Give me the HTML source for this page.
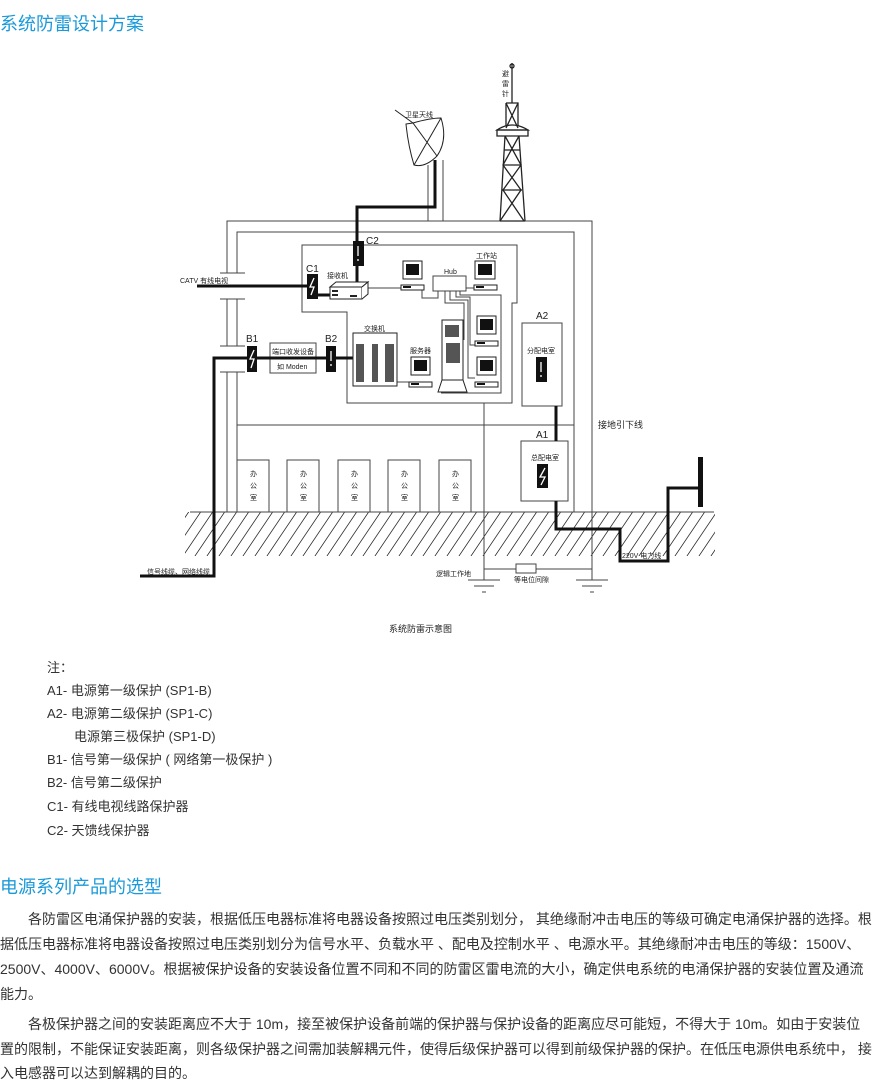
<!DOCTYPE html>
<html><head><meta charset="utf-8"><style>
*{margin:0;padding:0}
body{width:882px;height:1075px;background:#fff;position:relative;overflow:hidden;font-family:"Liberation Sans","Noto Sans CJK SC",sans-serif;color:#333}
.t{position:absolute;left:0;font-size:18px;color:#1b9ad9;white-space:nowrap}
.n{position:absolute;left:47px;font-size:13px;color:#333;white-space:nowrap}
.p{position:absolute;left:0;width:868px;font-size:14px;color:#333;white-space:nowrap}
.j{text-align:justify;text-align-last:justify}
svg{position:absolute;left:0;top:0}
svg text{font-family:"Liberation Sans","Noto Sans CJK SC",sans-serif;fill:#222}
</style></head><body>
<div class="t" style="top:10px">系统防雷设计方案</div>

<svg width="882" height="650" viewBox="0 0 882 650">
<defs>
<pattern id="h" width="12" height="44" patternUnits="userSpaceOnUse" patternTransform="skewX(-34)">
<line x1="6" y1="0" x2="6" y2="44" stroke="#333" stroke-width="1"/></pattern>
</defs>
<g fill="none" stroke="#444" stroke-width="1">
<!-- ground hatch -->
<rect x="185" y="512" width="530" height="44" fill="url(#h)" stroke="none"/>
<line x1="190" y1="512" x2="714" y2="512"/>
<!-- outer walls -->
<path d="M227 273 V221 H592 V512"/>
<path d="M237 273 V232 H574 V512"/>
<path d="M227 299 V346 M237 299 V346"/>
<path d="M227 372 V512 M237 372 V512"/>
<path d="M220 273 H245 M220 299 H245 M220 346 H245 M220 372 H245"/>
<line x1="237" y1="425" x2="574" y2="425"/>
<!-- antenna mast -->
<path d="M428 165 V221 M443 160 V221"/>
<!-- inner room -->
<path d="M302 245 H517 V303 H512 V403 H347 V312 H302 Z"/>
<!-- logic ground line -->
<path d="M484 403 V580 M592 512 V580"/>
<path d="M484 569 H592"/>
<rect x="516" y="564" width="20" height="9" fill="#fff"/>
<path d="M468 580 H500 M474 586 H494 M482 592 H486"/>
<path d="M576 580 H608 M582 586 H602 M590 592 H594"/>
<!-- offices -->
<rect x="237" y="460" width="32" height="52" fill="#fff"/>
<rect x="287" y="460" width="32" height="52" fill="#fff"/>
<rect x="338" y="460" width="32" height="52" fill="#fff"/>
<rect x="388" y="460" width="32" height="52" fill="#fff"/>
<rect x="439" y="460" width="32" height="52" fill="#fff"/>
<!-- boxes -->
<rect x="522" y="323" width="40" height="83"/>
<rect x="521" y="441" width="47" height="60" fill="#fff"/>
<rect x="270" y="343" width="46" height="30"/>
<line x1="270" y1="358" x2="316" y2="358"/>
<!-- network wiring -->
<path d="M368 288 H401"/>
<path d="M422 290 V298 H438 V291"/>
<path d="M466 288 H475"/>
<path d="M445 291 V303 H464 V340"/>
<path d="M450 291 V300 H468 V378 H475"/>
<path d="M456 291 V297 H470 V345 H475"/>
<path d="M460 291 V295 H501 V393 H441"/>
<path d="M397 378 V382 H409"/>
</g>
<!-- dish -->
<g stroke="#222" stroke-width="1" fill="#fff">
<path d="M406 124 L413 123 Q430 118 441 118 Q448 140 437 156 Q425 168 414 165 Q408 145 406 124 Z"/>
<path d="M413 123 L437 156 M441 118 L414 165 M395 110 L413 123" fill="none"/>
</g>
<!-- tower -->
<g stroke="#222" stroke-width="1.3" fill="none">
<path d="M512 63 V103"/><circle cx="512" cy="66" r="2"/>
<path d="M506 103 H518 V128 M506 103 V128"/>
<path d="M497 130 Q512 120 528 130 Z" fill="#fff"/>
<path d="M497 130 H528 V136 H497 Z"/>
<path d="M505 136 L500 221 M519 136 L525 221"/>
<path d="M505 136 L521 165 L503 190 L524 221 M519 136 L503 165 L521 190 L500 221"/>
<path d="M504 150 H520 M503 165 H521 M502 190 H522 M500 221 H525"/>
<path d="M506 103 L518 128 M518 103 L506 128"/>
</g>
<!-- thick lines -->
<g stroke="#111" stroke-width="3" fill="none">
<path d="M435 160 V207 H357 V282"/>
<path d="M197 286 H312"/>
<path d="M312 295 H330"/>
<path d="M140 576 H214 V358 H353"/>
<path d="M556 406 V441"/>
<path d="M556 501 V529 H620 V561 H668 V488 H700"/>
</g>
<rect x="698" y="457" width="5" height="50" fill="#111"/>
<!-- surge protector symbols -->
<g fill="#111">
<rect x="353" y="241" width="11" height="25"/>
<rect x="307" y="274" width="11" height="25"/>
<rect x="247" y="346" width="10" height="26"/>
<rect x="326" y="346" width="10" height="26"/>
<rect x="536" y="357" width="11" height="25"/>
<rect x="537" y="464" width="11" height="24"/>
</g>
<g stroke="#fff" stroke-width="1.3" fill="none">
<path d="M358 246 V256 M358 259 V261"/>
<path d="M331 351 V361 M331 364 V366"/>
<path d="M541 362 V372 M541 375 V377"/>
<path d="M314 278 L310 287 H314 L311 295"/>
<path d="M254 350 L250 359 H254 L251 368"/>
<path d="M545 468 L540 477 H545 L541 485"/>
</g>
<!-- receiver -->
<g stroke="#222" fill="#fff" stroke-width="1">
<path d="M330 287 L336 282 H368 L362 287 Z"/>
<rect x="330" y="287" width="32" height="12"/>
<path d="M362 287 L368 282 V294 L362 299"/>
</g>
<g fill="#222">
<rect x="332" y="290" width="6" height="2"/><rect x="332" y="294" width="6" height="2"/>
<rect x="350" y="295" width="7" height="2"/>
</g>
<!-- hub -->
<rect x="433" y="276" width="33" height="15" fill="#fff" stroke="#444"/>
<!-- computers -->
<g stroke="#222" stroke-width="1" fill="#fff">
<g id="pc1"><rect x="403" y="261" width="19" height="18"/><rect x="401" y="285" width="23" height="5"/></g>
<rect x="475" y="261" width="20" height="18"/><rect x="474" y="285" width="23" height="5"/>
<rect x="477" y="316" width="19" height="18"/><rect x="475" y="341" width="23" height="5"/>
<rect x="477" y="357" width="19" height="18"/><rect x="475" y="382" width="23" height="5"/>
<rect x="411" y="357" width="19" height="18"/><rect x="409" y="382" width="23" height="5"/>
<rect x="353" y="333" width="44" height="53"/>
<rect x="442" y="320" width="21" height="60"/>
<path d="M438 392 L442 380 H463 L467 392 Z"/>
</g>
<g fill="#111">
<rect x="406" y="264" width="13" height="11"/><rect x="478" y="264" width="14" height="11"/>
<rect x="480" y="319" width="13" height="11"/><rect x="480" y="360" width="13" height="11"/>
<rect x="414" y="360" width="13" height="11"/>
<rect x="403" y="286" width="8" height="2"/><rect x="476" y="286" width="8" height="2"/>
<rect x="477" y="342" width="8" height="2"/><rect x="477" y="383" width="8" height="2"/>
<rect x="411" y="383" width="8" height="2"/>
</g>
<g fill="#555">
<rect x="356" y="344" width="8" height="38"/><rect x="372" y="344" width="6" height="38"/><rect x="385" y="344" width="9" height="38"/>
<rect x="445" y="325" width="14" height="12"/><rect x="446" y="343" width="14" height="20"/>
</g>
<!-- labels -->
<g font-size="7">
<text x="405" y="117">卫星天线</text>
<text x="502" y="76">避</text><text x="502" y="86">雷</text><text x="502" y="96">针</text>
<text x="180" y="283">CATV 有线电视</text>
<text x="327" y="278">接收机</text>
<text x="444" y="274">Hub</text>
<text x="476" y="258">工作站</text>
<text x="364" y="331">交换机</text>
<text x="410" y="353">服务器</text>
<text x="272" y="354">端口收发设备</text>
<text x="277" y="369">如 Moden</text>
<text x="527" y="353">分配电室</text>
<text x="531" y="460">总配电室</text>
<text x="147" y="574">信号线缆、网络线缆</text>
<text x="436" y="576">逻辑工作地</text>
<text x="514" y="582">等电位间隙</text>
<text x="622" y="558">220V 电力线</text>
<text x="250" y="476">办</text><text x="250" y="488">公</text><text x="250" y="500">室</text>
<text x="300" y="476">办</text><text x="300" y="488">公</text><text x="300" y="500">室</text>
<text x="351" y="476">办</text><text x="351" y="488">公</text><text x="351" y="500">室</text>
<text x="401" y="476">办</text><text x="401" y="488">公</text><text x="401" y="500">室</text>
<text x="452" y="476">办</text><text x="452" y="488">公</text><text x="452" y="500">室</text>
</g>
<g font-size="10">
<text x="366" y="244">C2</text><text x="306" y="272">C1</text>
<text x="246" y="342">B1</text><text x="325" y="342">B2</text>
<text x="536" y="319">A2</text><text x="536" y="438">A1</text>
</g>
<text x="598" y="428" font-size="9">接地引下线</text>
<text x="389" y="632" font-size="9">系统防雷示意图</text>
</svg>

<div class="n" style="top:657px">注：</div>
<div class="n" style="top:680px">A1- 电源第一级保护 (SP1-B)</div>
<div class="n" style="top:703px">A2- 电源第二级保护 (SP1-C)</div>
<div class="n" style="top:726px;left:74px">电源第三极保护 (SP1-D)</div>
<div class="n" style="top:749px">B1- 信号第一级保护 ( 网络第一极保护 )</div>
<div class="n" style="top:772px">B2- 信号第二级保护</div>
<div class="n" style="top:796px">C1- 有线电视线路保护器</div>
<div class="n" style="top:820px">C2- 天馈线保护器</div>

<div class="t" style="top:873px">电源系列产品的选型</div>
<div class="p j" style="top:909px;padding-left:28px;width:840px">各防雷区电涌保护器的安装，根据低压电器标准将电器设备按照过电压类别划分， 其绝缘耐冲击电压的等级可确定电涌保护器的选择。根</div>
<div class="p j" style="top:934px;width:848px">据低压电器标准将电器设备按照过电压类别划分为信号水平、负载水平 、配电及控制水平 、电源水平。其绝缘耐冲击电压的等级：1500V、</div>
<div class="p j" style="top:959px;width:845px">2500V、4000V、6000V。根据被保护设备的安装设备位置不同和不同的防雷区雷电流的大小，确定供电系统的电涌保护器的安装位置及通流</div>
<div class="p" style="top:984px">能力。</div>
<div class="p j" style="top:1014px;padding-left:28px;width:818px">各极保护器之间的安装距离应不大于 10m，接至被保护设备前端的保护器与保护设备的距离应尽可能短，不得大于 10m。如由于安装位</div>
<div class="p j" style="top:1039px;width:842px">置的限制，不能保证安装距离，则各级保护器之间需加装解耦元件，使得后级保护器可以得到前级保护器的保护。在低压电源供电系统中， 接</div>
<div class="p" style="top:1063px">入电感器可以达到解耦的目的。</div>
</body></html>
